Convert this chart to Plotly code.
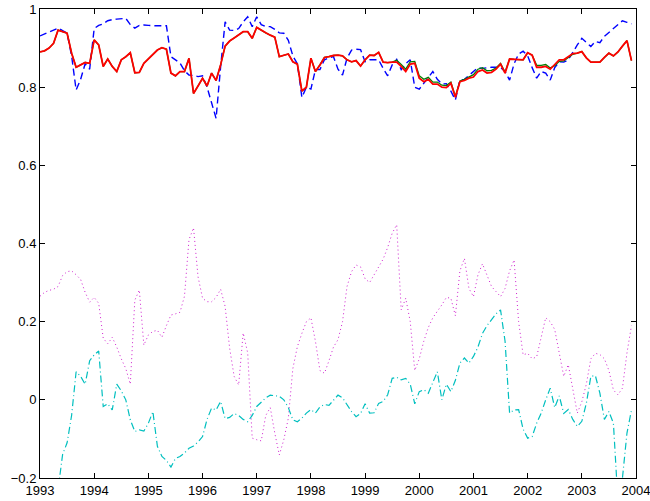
import plotly.graph_objects as go

n_months = 132
start_year = 1993
years = [start_year + i / 12 for i in range(n_months)]

blue = [
    0.931, 0.936, 0.940, 0.946, 0.951, 0.945, 0.938, 0.880, 0.793, 0.820,
    0.860, 0.846, 0.950, 0.958, 0.962, 0.970, 0.973, 0.974, 0.975, 0.976,
    0.960, 0.951, 0.958, 0.959, 0.958, 0.957, 0.957, 0.957, 0.957, 0.878,
    0.870, 0.862, 0.842, 0.831, 0.830, 0.827, 0.829, 0.800, 0.760, 0.720,
    0.852, 0.967, 0.946, 0.945, 0.950, 0.967, 0.980, 0.955, 0.980, 0.960,
    0.955, 0.955, 0.948, 0.939, 0.938, 0.920, 0.880, 0.860, 0.774, 0.800,
    0.795, 0.845, 0.845, 0.870, 0.875, 0.878, 0.846, 0.831, 0.874, 0.895,
    0.897, 0.896, 0.865, 0.870, 0.870, 0.870, 0.848, 0.829, 0.857, 0.871,
    0.845, 0.860, 0.870, 0.800, 0.795, 0.810, 0.827, 0.840, 0.820, 0.808,
    0.809, 0.790, 0.767, 0.818, 0.820, 0.830, 0.842, 0.850, 0.848, 0.850,
    0.851, 0.851, 0.850, 0.840, 0.818, 0.860, 0.885, 0.892, 0.880, 0.850,
    0.823, 0.840, 0.836, 0.818, 0.850, 0.865, 0.864, 0.870, 0.890, 0.908,
    0.925, 0.915, 0.904, 0.917, 0.914, 0.930, 0.940, 0.950, 0.962, 0.970,
    0.966, 0.962,
]

green = [
    0.890, 0.893, 0.900, 0.912, 0.946, 0.942, 0.938, 0.887, 0.851, 0.857,
    0.863, 0.861, 0.921, 0.908, 0.853, 0.872, 0.853, 0.840, 0.870, 0.878,
    0.888, 0.837, 0.838, 0.861, 0.872, 0.885, 0.895, 0.901, 0.897, 0.836,
    0.829, 0.840, 0.840, 0.874, 0.784, 0.803, 0.823, 0.803, 0.836, 0.817,
    0.857, 0.905, 0.918, 0.926, 0.934, 0.942, 0.942, 0.925, 0.953, 0.945,
    0.939, 0.933, 0.928, 0.878, 0.882, 0.885, 0.865, 0.859, 0.790, 0.800,
    0.874, 0.840, 0.857, 0.876, 0.878, 0.881, 0.882, 0.880, 0.870, 0.865,
    0.868, 0.854, 0.870, 0.882, 0.881, 0.889, 0.864, 0.863, 0.864, 0.869,
    0.858, 0.846, 0.865, 0.866, 0.829, 0.820, 0.825, 0.813, 0.813, 0.805,
    0.804, 0.813, 0.776, 0.816, 0.820, 0.826, 0.832, 0.846, 0.850, 0.842,
    0.843, 0.849, 0.861, 0.838, 0.872, 0.871, 0.870, 0.870, 0.888, 0.882,
    0.856, 0.856, 0.858, 0.849, 0.855, 0.866, 0.867, 0.875, 0.884, 0.887,
    0.891, 0.875, 0.864, 0.864, 0.864, 0.876, 0.887, 0.880, 0.890, 0.905,
    0.919, 0.868,
]

red = [
    0.890, 0.893, 0.900, 0.912, 0.946, 0.942, 0.938, 0.887, 0.851, 0.857,
    0.863, 0.861, 0.921, 0.908, 0.853, 0.872, 0.853, 0.840, 0.870, 0.878,
    0.888, 0.837, 0.838, 0.861, 0.872, 0.885, 0.895, 0.901, 0.897, 0.836,
    0.829, 0.840, 0.840, 0.874, 0.784, 0.803, 0.823, 0.803, 0.836, 0.817,
    0.857, 0.905, 0.918, 0.926, 0.934, 0.942, 0.942, 0.925, 0.953, 0.945,
    0.939, 0.933, 0.928, 0.878, 0.882, 0.885, 0.865, 0.859, 0.790, 0.800,
    0.874, 0.840, 0.857, 0.876, 0.878, 0.881, 0.882, 0.880, 0.870, 0.865,
    0.868, 0.854, 0.870, 0.882, 0.881, 0.889, 0.864, 0.863, 0.864, 0.864,
    0.853, 0.840, 0.859, 0.861, 0.823, 0.814, 0.820, 0.808, 0.808, 0.800,
    0.799, 0.810, 0.774, 0.814, 0.817, 0.823, 0.826, 0.840, 0.844, 0.836,
    0.838, 0.846, 0.859, 0.836, 0.872, 0.871, 0.870, 0.870, 0.888, 0.882,
    0.851, 0.851, 0.853, 0.846, 0.858, 0.870, 0.870, 0.878, 0.886, 0.887,
    0.891, 0.875, 0.864, 0.864, 0.864, 0.876, 0.887, 0.880, 0.890, 0.905,
    0.919, 0.868,
]

magenta = [
    0.265, 0.275, 0.280, 0.283, 0.290, 0.318, 0.328, 0.330, 0.320, 0.308,
    0.275, 0.250, 0.262, 0.247, 0.158, 0.143, 0.160, 0.135, 0.105, 0.080,
    0.040, 0.255, 0.281, 0.140, 0.166, 0.175, 0.178, 0.160, 0.190, 0.217,
    0.220, 0.224, 0.265, 0.410, 0.440, 0.315, 0.260, 0.251, 0.251, 0.262,
    0.283, 0.239, 0.132, 0.060, 0.038, 0.171, 0.120, -0.098, -0.102, -0.105,
    -0.040, -0.020, -0.085, -0.141, -0.102, -0.047, 0.080, 0.136, 0.170, 0.200,
    0.210, 0.150, 0.075, 0.068, 0.100, 0.135, 0.154, 0.200, 0.290, 0.328,
    0.345, 0.340, 0.310, 0.300, 0.320, 0.340, 0.360, 0.390, 0.426, 0.448,
    0.230, 0.260, 0.200, 0.075, 0.105, 0.150, 0.185, 0.210, 0.225, 0.243,
    0.262, 0.260, 0.215, 0.330, 0.362, 0.285, 0.264, 0.320, 0.348, 0.318,
    0.290, 0.277, 0.264, 0.285, 0.330, 0.358, 0.200, 0.115, 0.119, 0.105,
    0.110, 0.160, 0.210, 0.200, 0.180, 0.120, 0.060, 0.090, 0.030, -0.034,
    -0.005, 0.040, 0.105, 0.119, 0.116, 0.105, 0.075, 0.025, 0.013, 0.030,
    0.120, 0.190,
]

cyan = [
    -0.400, -0.360, -0.320, -0.270, -0.230, -0.140, -0.110, -0.040, 0.072, 0.060,
    0.040, 0.100, 0.115, 0.125, -0.017, -0.010, -0.026, 0.040, 0.023, 0.000,
    -0.051, -0.081, -0.077, -0.080, -0.060, -0.030, -0.119, -0.145, -0.155, -0.172,
    -0.150, -0.145, -0.136, -0.124, -0.118, -0.108, -0.094, -0.050, -0.021, -0.026,
    -0.004, -0.048, -0.045, -0.035, -0.040, -0.050, -0.056, -0.040, -0.017, -0.005,
    0.005, 0.012, 0.011, 0.009, 0.000, -0.020, -0.051, -0.056, -0.047, -0.034,
    -0.025, -0.034, -0.018, -0.012, -0.014, 0.000, 0.012, 0.005, -0.013, -0.030,
    -0.043, -0.035, -0.010, -0.034, -0.033, -0.009, -0.004, 0.013, 0.055, 0.058,
    0.051, 0.055, 0.040, -0.010, 0.021, 0.026, 0.017, 0.043, 0.072, 0.000,
    0.040, 0.021, 0.050, 0.094, 0.107, 0.094, 0.111, 0.135, 0.170, 0.190,
    0.205, 0.220, 0.230, 0.150, -0.034, -0.026, -0.025, -0.075, -0.098, -0.094,
    -0.060, -0.034, 0.000, 0.030, -0.020, 0.010, -0.035, -0.025, -0.050, -0.068,
    -0.055, -0.009, 0.060, 0.062, 0.017, -0.050, -0.030, -0.060, -0.260, -0.200,
    -0.085, -0.026,
]

year_ticks = list(range(1993, 2005))
y_ticks = [-0.2, 0, 0.2, 0.4, 0.6, 0.8, 1]
y_tick_labels = ["\u22120.2", "0", "0.2", "0.4", "0.6", "0.8", "1"]

fig = go.Figure()
fig.add_trace(go.Scatter(x=years, y=blue, mode="lines",
                         line=dict(color="#0000ff", width=1.4, dash="7px,4px")))
fig.add_trace(go.Scatter(x=years, y=green, mode="lines",
                         line=dict(color="#008000", width=1.3)))
fig.add_trace(go.Scatter(x=years, y=red, mode="lines",
                         line=dict(color="#ff0000", width=1.8)))
fig.add_trace(go.Scatter(x=years, y=magenta, mode="lines",
                         line=dict(color="#d020d0", width=1.0, dash="1px,3px")))
fig.add_trace(go.Scatter(x=years, y=cyan, mode="lines",
                         line=dict(color="#00bfbf", width=1.2, dash="7px,3px,1px,3px")))

axis_common = dict(
    showgrid=False, zeroline=False, showline=True, linecolor="black", linewidth=1,
    mirror="ticks", ticks="inside", ticklen=5, tickcolor="black", tickwidth=1,
    automargin=False, ticklabeloverflow="allow",
    tickfont=dict(family="Liberation Sans, Arial, sans-serif", size=13, color="black"),
)

fig.update_layout(
    width=650, height=501,
    margin=dict(l=40, r=14, t=9, b=23, autoexpand=False),
    paper_bgcolor="white", plot_bgcolor="white",
    showlegend=False,
    xaxis=dict(range=[1993, 2004], tickvals=year_ticks,
               ticktext=[str(y) for y in year_ticks], **axis_common),
    yaxis=dict(range=[-0.2, 1], tickvals=y_ticks, ticktext=y_tick_labels, **axis_common),
)

fig.write_html("out.html", config={"displayModeBar": False},
               post_script="document.body.style.margin='0';")
